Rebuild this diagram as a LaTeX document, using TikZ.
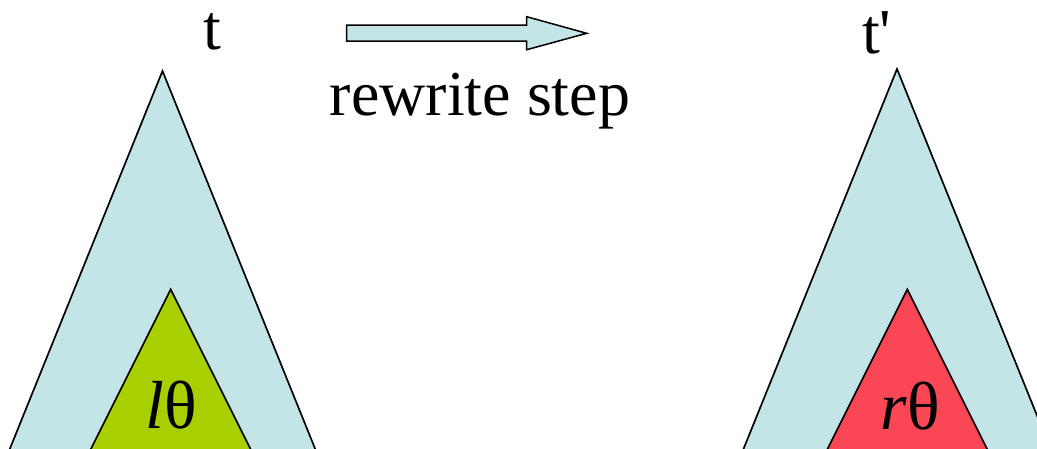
\documentclass[tikz,border=0pt]{standalone}
\usepackage{fontspec}
\setmainfont{Liberation Serif}
\definecolor{skyfill}{RGB}{196,229,232}
\definecolor{lfill}{RGB}{168,208,0}
\definecolor{rfill}{RGB}{250,70,85}
\begin{document}
\begin{tikzpicture}[x=1pt,y=-1pt,
  tri/.style={draw=black,line width=1.7pt,line join=miter},
  lbl/.style={inner sep=0pt,anchor=base,font=\fontsize{64}{70}\selectfont},
  inlbl/.style={inner sep=0pt,anchor=base,font=\fontsize{68}{74}\selectfont}]
\useasboundingbox (0,0) rectangle (1037,448);
\clip (0,0) rectangle (1037,448);
% left term t
\path[tri,fill=skyfill] (162.5,71) -- (162.5+0.404*400,471) -- (162.5-0.404*400,471) -- cycle;
\path[tri,fill=lfill] (170.7,289.3) -- (170.7+0.5*200,489.3) -- (170.7-0.5*200,489.3) -- cycle;
% right term t'
\path[tri,fill=skyfill] (897,69) -- (897+0.404*400,469) -- (897-0.404*400,469) -- cycle;
\path[tri,fill=rfill] (907.3,289.3) -- (907.3+0.5*200,489.3) -- (907.3-0.5*200,489.3) -- cycle;
% block arrow
\path[draw=black,line width=1.5pt,fill=skyfill,line join=miter]
  (346.7,25) -- (526.7,25) -- (526.7,16.7) -- (586.7,33.3) -- (526.7,49.7)
  -- (526.7,41) -- (346.7,41) -- cycle;
% labels
\node[lbl] (t) at (212,49) {t};
\node[lbl,anchor=base west] (tp) at (862,53) {t\textquotesingle};
\node[lbl] (step) at (480,115) {rewrite step};
\node[inlbl] (ltheta) at (171,428) {\textit{l}θ};
\node[inlbl] (rtheta) at (910,429) {\textit{r}θ};
\end{tikzpicture}
\end{document}
